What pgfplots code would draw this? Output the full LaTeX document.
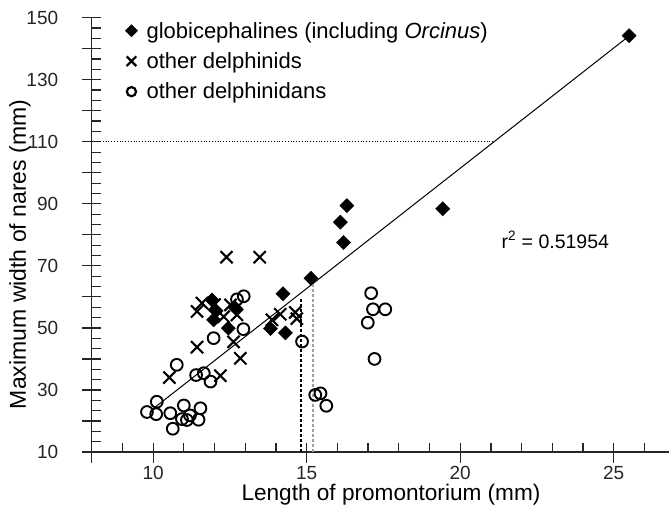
\documentclass[border=0pt]{standalone}
\usepackage{fontspec}
\setmainfont{Liberation Sans}
\usepackage{pgfplots}
\pgfplotsset{compat=1.18}
\begin{document}
\begin{tikzpicture}
\begin{axis}[
  scale only axis, width=577.3pt, height=434.3pt,
  at={(0,0)}, anchor=south west,
  xmin=8, xmax=26.8, ymin=10, ymax=150,
  clip=false,
  axis x line*=bottom, axis y line*=left,
  axis line style={line width=1.3pt, black!85},
  xtick={10,15,20,25}, xticklabels={10,15,20,25},
  minor xtick={9,11,12,13,14,16,17,18,19,21,22,23,24,26},
  ytick={10,20,...,150}, yticklabels={10,,30,,50,,70,,90,,110,,130,,150},
  minor y tick num=2,
  tick align=inside,
  major tick length=9pt, minor tick length=9pt,
  every tick/.style={line width=1.2pt, black!85},
  extra x ticks={8,10,15,20,25}, extra x tick labels={},
  extra x tick style={major tick length=-11pt},
  extra y ticks={10,20,...,150}, extra y tick labels={},
  extra y tick style={major tick length=-10pt},
  tick label style={font=\fontsize{19}{22}\selectfont, black!85},
  yticklabel style={xshift=-30pt},
  xticklabel style={yshift=-11pt},
  xlabel={Length of promontorium (mm)},
  ylabel={Maximum width of nares (mm)},
  xlabel style={font=\fontsize{22.6}{27}\selectfont, at={(axis description cs:0.2534,-0.098)}, anchor=west},
  ylabel style={font=\fontsize{23}{27}\selectfont, at={(axis description cs:-0.1242,0.455)}, anchor=center},
  legend style={draw=none, fill=none, at={(axis description cs:0.058,0.995)}, anchor=north west,
    font=\fontsize{22}{26}\selectfont, row sep=9pt, column sep=7pt, inner sep=0pt, cells={anchor=west}},
  legend cell align=left,
  legend image code/.code={\draw[#1] plot coordinates {(5pt,0pt)};},
]
\addlegendimage{only marks, mark=square*, mark size=4.3pt, mark options={rotate=45, fill=black, draw=black}}
\addlegendentry{globicephalines (including \textit{Orcinus})}
\addlegendimage{only marks, mark=x, mark size=6.8pt, mark options={line width=2.2pt}, black}
\addlegendentry{other delphinids}
\addlegendimage{only marks, mark=o, mark size=4.6pt, mark options={line width=2.2pt}, black}
\addlegendentry{other delphinidans}

\addplot[black, line width=1pt, forget plot] coordinates {(10.02,24.1) (25.5,144.1)};
\addplot[black, dotted, line width=0.8pt, forget plot] coordinates {(8,110) (21.1,110)};
\addplot[black, dash pattern=on 3pt off 2pt, line width=1.4pt, forget plot] coordinates {(14.82,10) (14.82,59.5)};
\addplot[gray!75, dash pattern=on 3pt off 2pt, line width=1.5pt, forget plot] coordinates {(15.21,10) (15.21,64.3)};

% other delphinidans
\addplot[only marks, mark=o, mark size=5.9pt, mark options={line width=1.9pt}, black, forget plot] coordinates {
(9.80,22.9) (10.12,26.2) (10.10,22.2) (10.56,22.5) (10.64,17.5) (10.77,38.1)
(11.00,25.0) (10.94,20.6) (11.20,21.8) (11.10,20.3) (11.54,24.1) (11.48,20.4)
(11.40,34.8) (11.65,35.4) (11.87,32.7) (11.97,46.7) (12.94,49.6) (12.73,59.2)
(12.95,60.2) (14.85,45.6) (15.28,28.4) (15.45,28.9) (15.64,24.9) (16.99,51.7)
(17.10,61.2) (17.16,56.0) (17.56,56.0) (17.21,40.0)
};
% other delphinids
\addplot[only marks, mark=x, mark size=8.6pt, mark options={line width=2.1pt}, black, forget plot] coordinates {
(10.53,34.0) (11.43,43.8) (11.43,55.3) (11.59,58.0) (12.00,57.5) (12.19,34.6)
(12.30,53.6) (12.39,72.8) (12.52,57.4) (12.62,45.5) (12.73,54.2) (12.84,40.2)
(13.47,72.8) (13.87,52.6) (14.14,54.4) (14.63,55.0) (14.68,53.0)
};
% globicephalines
\addplot[only marks, mark=square*, mark size=5pt, mark options={rotate=45, fill=black, draw=black}, forget plot] coordinates {
(11.92,59.0) (12.05,55.5) (11.97,52.6) (12.45,49.9) (12.68,56.4) (13.82,49.8)
(14.23,61.0) (14.31,48.4) (15.14,66.0) (16.10,84.1) (16.20,77.5) (16.31,89.4)
(19.43,88.4) (25.50,144.2)
};
\node[font=\fontsize{19.5}{23}\selectfont] at (axis cs:23.1,78.4) {r\textsuperscript{2} = 0.51954};
\end{axis}
\pgfresetboundingbox
\path (-91.7pt,-58pt) rectangle (577.3pt,452pt);
\end{tikzpicture}
\end{document}
